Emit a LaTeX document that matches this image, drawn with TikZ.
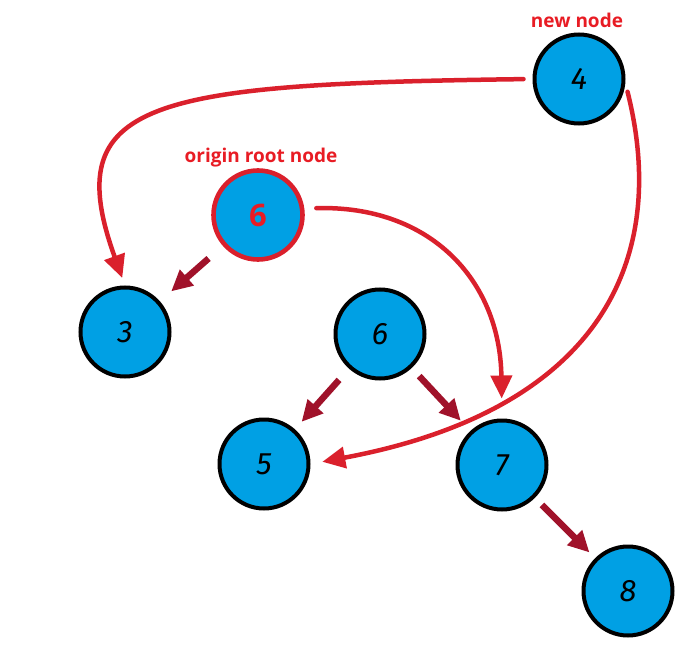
\documentclass[tikz,border=0pt]{standalone}
\usepackage{fontspec}
\setmainfont{Open Sans}
\newfontfamily\handfont{Fira Sans}
\usetikzlibrary{arrows.meta}
\definecolor{nodeblue}{RGB}{0,160,228}
\definecolor{linkred}{RGB}{218,32,44}
\definecolor{childred}{RGB}{160,18,42}
\definecolor{labelred}{RGB}{232,28,36}

\begin{document}
\begin{tikzpicture}[x=1pt,y=-1pt,
  treenode/.style={circle, draw=black, line width=4pt, fill=nodeblue,
    minimum size=89pt, inner sep=0pt,
    font=\handfont\itshape\fontsize{31}{31}\selectfont},
  rootnode/.style={treenode, draw=linkred, line width=4.6pt,
    font=\bfseries\fontsize{31}{31}\selectfont, text=labelred},
  note/.style={text=labelred, font=\bfseries\fontsize{19}{19}\selectfont},
  moved/.style={draw=linkred, line width=4.5pt, line cap=round,
    -{Triangle[length=23pt,width=21pt]}},
  child/.style={draw=childred, line width=6.5pt,
    -{Triangle[length=21pt,width=20pt]}}]

\useasboundingbox (0,0) rectangle (696,650);

% tree nodes
\node[treenode] (n4) at (579,79) {4};
\node[rootnode] (n6a) at (258,215) {6};
\node[treenode] (n3) at (125,332) {3};
\node[treenode] (n6) at (380,334) {6};
\node[treenode] (n5) at (264,464) {5};
\node[treenode] (n7) at (502,465) {7};
\node[treenode] (n8) at (628,591) {8};

% labels
\node[note] (lnew) at (577,20) {new node};
\node[note] (lroot) at (261,158) {origin root node};

% parent-child links
\draw[child, shorten <=19pt, shorten >=15pt] (n6a) -- (n3);
\draw[child, shorten <=15pt, shorten >=10pt] (n6) -- (n5);
\draw[child, shorten <=11pt, shorten >=14pt] (n6) -- (n7);
\draw[child, shorten <=10pt, shorten >=8pt] (n7) -- (n8);

% re-linking after insertion
\draw[moved, shorten <=9pt, shorten >=8pt]
  (n4.west) .. controls (150,84) and (58,100) .. (n3.north);
\draw[moved, shorten <=12pt, shorten >=20pt]
  (n6a.8) .. controls (430,205) and (500,280) .. (n7.north);
\draw[moved, shorten <=9pt, shorten >=12pt]
  (n4.-5) .. controls (670,260) and (600,410) .. (n5.east);
\end{tikzpicture}
\end{document}
